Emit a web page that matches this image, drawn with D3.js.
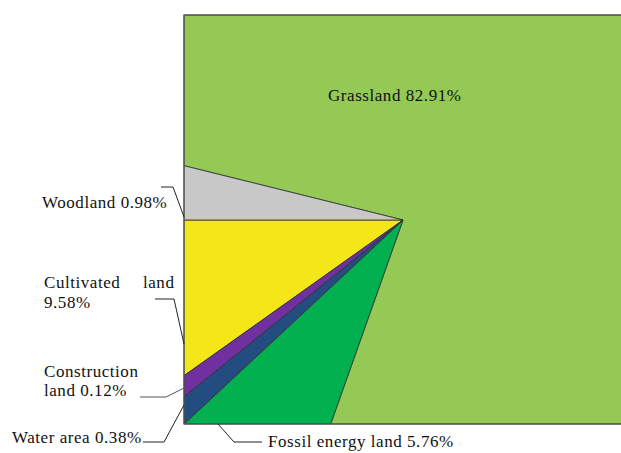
<!DOCTYPE html>
<html>
<head>
<meta charset="utf-8">
<script src="https://cdn.jsdelivr.net/npm/d3@7"></script>
<style>
  html, body { margin: 0; padding: 0; background: #fff; }
  svg { display: block; }
  text { font-family: "Liberation Serif", "Times New Roman", serif; font-size: 17px; letter-spacing: 0.55px; fill: #111; }
</style>
</head>
<body>
<svg id="chart" width="621" height="453"></svg>
<script>
// ---- data ----
const categories = ["Woodland", "Cultivated land", "Construction land", "Water area", "Fossil energy land", "Grassland"];
const shares = [0.98, 9.58, 0.12, 0.38, 5.76, 82.91];
const colors = ["#c8c8c8", "#f4e619", "#7030a0", "#234c80", "#03b04f", "#94c955"];

// ---- layout ----
const W = 621, H = 453;
const frame = { x0: 184, y0: 15, x1: 640, y1: 424 };
const center = [403, 220];
const fw = frame.x1 - frame.x0, fh = frame.y1 - frame.y0;
const perim = 2 * (fw + fh);
// offsets along the frame (from top-left corner, going down the left edge, counter-clockwise)
const edgeOffsets = [150.7, 205, 360.7, 381.7, 409, 555.7, 150.7 + perim];

const svg = d3.select("#chart");

// cumulative shares
const cum = [0];
shares.forEach(v => cum.push(cum[cum.length - 1] + v));
const edgeScale = d3.scaleLinear().domain(cum).range(edgeOffsets);

function perimPoint(s) {
  s = ((s % perim) + perim) % perim;
  if (s <= fh) return [frame.x0, frame.y0 + s];
  s -= fh;
  if (s <= fw) return [frame.x0 + s, frame.y1];
  s -= fw;
  if (s <= fh) return [frame.x1, frame.y1 - s];
  s -= fh;
  return [frame.x1 - s, frame.y0];
}
const cornerOffsets = [fh, fh + fw, 2 * fh + fw, perim];

const slices = categories.map((c, i) => {
  const s0 = edgeScale(cum[i]), s1 = edgeScale(cum[i + 1]);
  const pts = [center, perimPoint(s0)];
  const corners = [];
  for (let k = 0; k < 2; k++) cornerOffsets.forEach(co => {
    const v = co + k * perim;
    if (v > s0 && v < s1) corners.push(v);
  });
  corners.sort((a, b) => a - b).forEach(v => pts.push(perimPoint(v)));
  pts.push(perimPoint(s1));
  return { name: c, value: shares[i], color: colors[i], pts };
});

const line = d3.line().curve(d3.curveLinearClosed);
svg.append("clipPath").attr("id", "clip")
  .append("rect").attr("x", 0).attr("y", 0).attr("width", W).attr("height", H);

const g = svg.append("g").attr("clip-path", "url(#clip)");
// grassland (largest) first so the smaller slices sit on top
const order = slices.slice().sort((a, b) => b.value - a.value);
g.selectAll("path.slice").data(order).join("path")
  .attr("class", "slice")
  .attr("d", d => line(d.pts))
  .attr("fill", d => d.color)
  .attr("stroke", "#2e2e2e")
  .attr("stroke-width", 0.8)
  .attr("stroke-linejoin", "miter");

// frame outline
g.append("rect")
  .attr("x", frame.x0).attr("y", frame.y0)
  .attr("width", fw).attr("height", fh)
  .attr("fill", "none").attr("stroke", "#555")
  .attr("stroke-width", 1.2);

// ---- labels ----
const fmt = v => d3.format(".2f")(v) + "%";
const labelLines = [
  { i: 5, lines: [{ x: 328, y: 101, parts: [[0, categories[5] + " " + fmt(shares[5])]] }] },
  { i: 0, lines: [{ x: 42, y: 208, parts: [[0, categories[0] + " " + fmt(shares[0])]] }] },
  { i: 1, lines: [
      { x: 44, y: 288, parts: [[0, "Cultivated"], [99, "land"]] },
      { x: 44, y: 308, parts: [[0, fmt(shares[1])]] } ] },
  { i: 2, lines: [
      { x: 44, y: 377, parts: [[0, "Construction"]] },
      { x: 44, y: 396, parts: [[0, "land " + fmt(shares[2])]] } ] },
  { i: 3, lines: [{ x: 12, y: 443, parts: [[0, categories[3] + " " + fmt(shares[3])]] }] },
  { i: 4, lines: [{ x: 268, y: 447, parts: [[0, categories[4] + " " + fmt(shares[4])]] }] }
];
labelLines.forEach(l => l.lines.forEach(ln => ln.parts.forEach(p => {
  svg.append("text").attr("x", ln.x + p[0]).attr("y", ln.y).text(p[1]);
})));

// leader lines
const leaders = [
  { pts: [[161, 187], [173, 187], [184, 217]], color: "#222" },
  { pts: [[155, 299], [174, 299], [184, 344]], color: "#222" },
  { pts: [[140, 397], [166, 397], [184, 388]], color: "#555" },
  { pts: [[143, 442], [164, 442], [184, 405]], color: "#222" },
  { pts: [[218, 424], [234, 442], [262, 442]], color: "#222" }
];
const open = d3.line();
svg.selectAll("path.leader").data(leaders).join("path")
  .attr("class", "leader")
  .attr("d", d => open(d.pts))
  .attr("fill", "none")
  .attr("stroke", d => d.color)
  .attr("stroke-width", 1);
</script>
</body>
</html>
